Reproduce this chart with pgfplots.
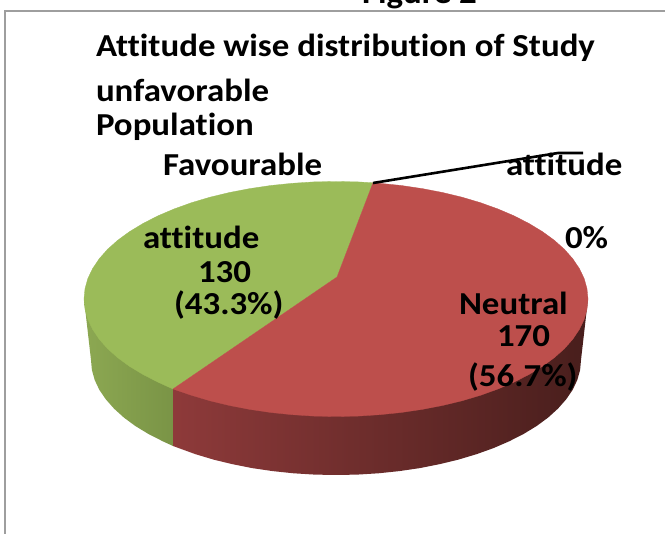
\documentclass[border=0pt]{standalone}
\usepackage{fontspec}
\setmainfont{Carlito}[FakeStretch=1.09,Ligatures=NoCommon]
\usepackage{pgfplots}
\pgfplotsset{compat=1.18}
\definecolor{pieRed}{RGB}{189,79,76}
\definecolor{pieGreen}{RGB}{155,187,89}
\tikzset{lab/.style={font=\fontsize{32}{34}\selectfont\bfseries, text=black, inner sep=0pt, outer sep=0pt, anchor=base west}}
\begin{document}
\begin{tikzpicture}
\begin{axis}[
  scale only axis, width=665pt, height=534pt,
  xmin=0, xmax=665, ymin=0, ymax=534, y dir=reverse,
  axis lines=none, ticks=none, clip=true
]
% page
\addplot[fill=white, draw=none] coordinates {(0,0)(665,0)(665,534)(0,534)(0,0)};
% frame
\addplot[color=black!38, line width=2pt] coordinates {(5,534)(5,11)(665,11)};
% green side
\addplot[left color={rgb,255:red,140;green,168;blue,82}, right color={rgb,255:red,122;green,148;blue,70}, draw=none]
 coordinates {(84,299)(91,360)(91.9,370)(94.7,380)(99.3,389.8)(105.8,399.3)(114,408.6)(123.8,417.5)(135.3,426)(148.3,433.9)(162.8,441.3)(173,446)(173,389)(84,299)};
% red side
\addplot[left color={rgb,255:red,142;green,58;blue,58}, middle color={rgb,255:red,85;green,35;blue,33}, right color={rgb,255:red,72;green,30;blue,28}, draw=none]
 coordinates {(173,389)(173,446)(195.5,454.2)(213.5,459.6)(232.5,464.2)(252.2,468.1)(272.6,471.1)(293.5,473.3)(314.6,474.6)(336,475)(357.4,474.6)(378.5,473.3)(399.4,471.1)(419.8,468.1)(439.5,464.2)(458.5,459.6)(476.5,454.2)(493.5,448.1)(509.2,441.3)(523.7,433.9)(536.7,426)(548.2,417.5)(558,408.6)(566.2,399.3)(572.7,389.8)(577.3,380)(580.1,370)(581,360)(588,299)(173,389)};
% green top
\addplot[fill=pieGreen, draw=pieGreen, line width=0.3pt]
 coordinates {(337,277)(173,389)(157.8,382.1)(143,374.5)(129.6,366.4)(117.8,357.8)(107.6,348.7)(99.2,339.2)(92.6,329.4)(87.8,319.4)(85,309.2)(84,299)(85,288.8)(87.8,278.6)(92.6,268.6)(99.2,258.8)(107.6,249.3)(117.8,240.2)(129.6,231.6)(143,223.5)(157.8,215.9)(174,209)(191.5,202.7)(210,197.2)(229.5,192.5)(249.8,188.6)(270.8,185.5)(292.3,183.3)(314,181.9)(336,181.5)(358,181.9)(373,182.8)(337,277)};
% red top
\addplot[fill=pieRed, draw=pieRed, line width=0.3pt]
 coordinates {(337,277)(373,182.8)(379.7,183.3)(401.2,185.5)(422.2,188.6)(442.5,192.5)(462,197.2)(480.5,202.7)(498,209)(514.2,215.9)(529,223.5)(542.4,231.6)(554.2,240.2)(564.4,249.3)(572.8,258.8)(579.4,268.6)(584.2,278.6)(587,288.8)(588,299)(587,309.2)(584.2,319.4)(579.4,329.4)(572.8,339.2)(564.4,348.7)(554.2,357.8)(542.4,366.4)(529,374.5)(514.2,382.1)(498,389)(480.5,395.3)(462,400.8)(442.5,405.5)(422.2,409.4)(401.2,412.5)(379.7,414.7)(358,416.1)(336,416.5)(314,416.1)(292.3,414.7)(270.8,412.5)(249.8,409.4)(229.5,405.5)(210,400.8)(191.5,395.3)(173,389)(337,277)};
% leader
\addplot[color=black, line width=2.6pt] coordinates {(373,183)(558,153)(583,153)};
\begin{scope}
\clip (axis cs:0,0) rectangle (axis cs:665,534);
\node[lab] at (axis cs:362,4) {Figure 2};
\node[lab] at (axis cs:96,56.5) {Attitude wise distribution of Study};
\node[lab] at (axis cs:96,101.5) {unfavorable};
\node[lab] at (axis cs:96,135.5) {Population};
\node[lab] at (axis cs:163,175.5) {Favourable};
\node[lab] at (axis cs:506,175.5) {attitude};
\node[lab] at (axis cs:565,248.5) {0\%};
\node[lab] at (axis cs:143,248.5) {attitude};
\node[lab] at (axis cs:198,282.5) {130};
\node[lab] at (axis cs:174,314.5) {(43.3\%)};
\node[lab] at (axis cs:459,314.5) {Neutral};
\node[lab] at (axis cs:497,346.5) {170};
\node[lab] at (axis cs:468,386.5) {(56.7\%)};
\end{scope}
\end{axis}
\end{tikzpicture}
\end{document}
